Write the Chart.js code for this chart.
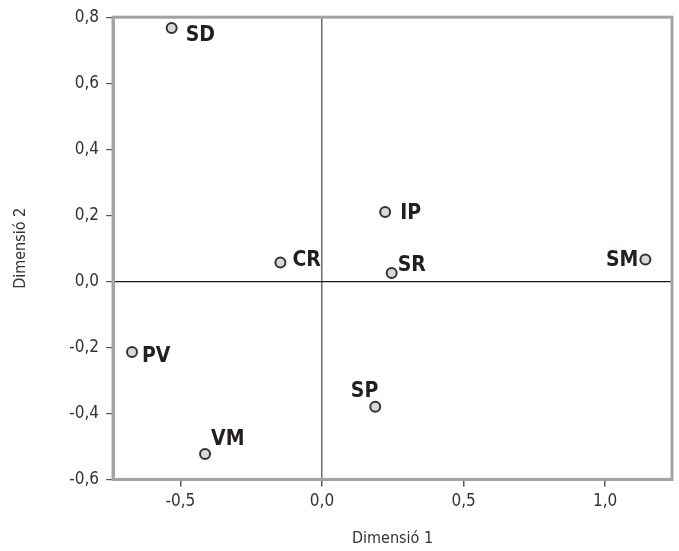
<!DOCTYPE html>
<html>
<head>
<meta charset="utf-8">
<script src="https://cdn.jsdelivr.net/npm/chart.js@4"></script>
<style>
html,body{margin:0;padding:0;background:#fff;}
#wrap{width:679px;height:551px;}
</style>
</head>
<body>
<div id="wrap"><canvas id="c" width="679" height="551"></canvas></div>
<script>
const names = ['SD', 'IP', 'CR', 'SR', 'SM', 'PV', 'SP', 'VM'];
const dim1 = [-0.531, 0.223, -0.147, 0.246, 1.142, -0.671, 0.188, -0.413];
const dim2 = [0.767, 0.210, 0.057, 0.025, 0.066, -0.214, -0.380, -0.523];
const xTicks = [-0.5, 0.0, 0.5, 1.0];
const yTicks = [-0.6, -0.4, -0.2, 0.0, 0.2, 0.4, 0.6, 0.8];

// label placement (style only)
const labelPlace = {
  SD: {dx: 14, dy: 7, align: 'left'},
  IP: {dx: 15, dy: 2, align: 'left'},
  CR: {dx: 12, dy: -2, align: 'left'},
  SR: {dx: 6, dy: -8, align: 'left'},
  SM: {dx: -7, dy: 1, align: 'right'},
  PV: {dx: 10, dy: 5, align: 'left'},
  SP: {dx: 3, dy: -15, align: 'right'},
  VM: {dx: 6, dy: -14, align: 'left'}
};

const pts = dim1.map((v, i) => ({x: v, y: dim2[i]}));

const frame = {
  id: 'frame',
  afterDraw(chart) {
    const {ctx, chartArea: a} = chart;
    ctx.save();
    ctx.strokeStyle = '#a3a3a3';
    ctx.lineWidth = 3;
    ctx.strokeRect(a.left, a.top, a.right - a.left, a.bottom - a.top);
    const meta = chart.getDatasetMeta(0);
    ctx.font = 'bold 21px "DejaVu Sans Condensed", "DejaVu Sans", sans-serif';
    ctx.fillStyle = '#231f20';
    ctx.textBaseline = 'middle';
    meta.data.forEach((el, i) => {
      const p = labelPlace[names[i]];
      ctx.textAlign = p.align;
      ctx.fillText(names[i], el.x + p.dx, el.y + p.dy);
    });
    ctx.restore();
  }
};

const tickFont = {family: '"DejaVu Sans Condensed", "DejaVu Sans", sans-serif', size: 17};
const titleFont = {family: '"DejaVu Sans Condensed", "DejaVu Sans", sans-serif', size: 16};

new Chart(document.getElementById('c'), {
  type: 'scatter',
  data: {
    datasets: [{
      data: pts,
      pointRadius: 5,
      pointBorderWidth: 2,
      pointBackgroundColor: '#d8d8d8',
      pointBorderColor: '#333333',
      pointHoverRadius: 5
    }]
  },
  options: {
    responsive: false,
    animation: false,
    events: [],
    layout: {padding: {top: 14, right: 5, left: 8, bottom: 3}},
    plugins: {legend: {display: false}, tooltip: {enabled: false}},
    scales: {
      x: {
        type: 'linear',
        min: -0.738, max: 1.236,
        afterBuildTicks: s => { s.ticks = xTicks.map(v => ({value: v})); },
        ticks: {
          font: tickFont, color: '#333',
          padding: 5,
          maxRotation: 0,
          callback: v => v.toFixed(1).replace('.', ',')
        },
        grid: {
          color: c => (c.tick && c.tick.value === 0) ? '#6d6d6d' : 'rgba(0,0,0,0)',
          lineWidth: 1.5,
          tickColor: '#555',
          tickLength: 7,
          drawTicks: true
        },
        border: {display: true, color: '#a3a3a3', width: 3},
        title: {display: true, text: 'Dimensió 1', font: titleFont, color: '#333', padding: {top: 12, bottom: 0}}
      },
      y: {
        type: 'linear',
        min: -0.6, max: 0.8,
        afterBuildTicks: s => { s.ticks = yTicks.map(v => ({value: v})); },
        ticks: {
          font: tickFont, color: '#333',
          padding: 7,
          callback: v => v.toFixed(1).replace('.', ',')
        },
        grid: {
          color: c => (c.tick && Math.abs(c.tick.value) < 1e-9) ? '#1a1a1a' : 'rgba(0,0,0,0)',
          lineWidth: 1.2,
          tickColor: '#555',
          tickLength: 7,
          drawTicks: true
        },
        border: {display: true, color: '#a3a3a3', width: 3},
        title: {display: true, text: 'Dimensió 2', font: titleFont, color: '#333', padding: {top: 3, bottom: 32}}
      }
    }
  },
  plugins: [frame]
});
</script>
</body>
</html>
